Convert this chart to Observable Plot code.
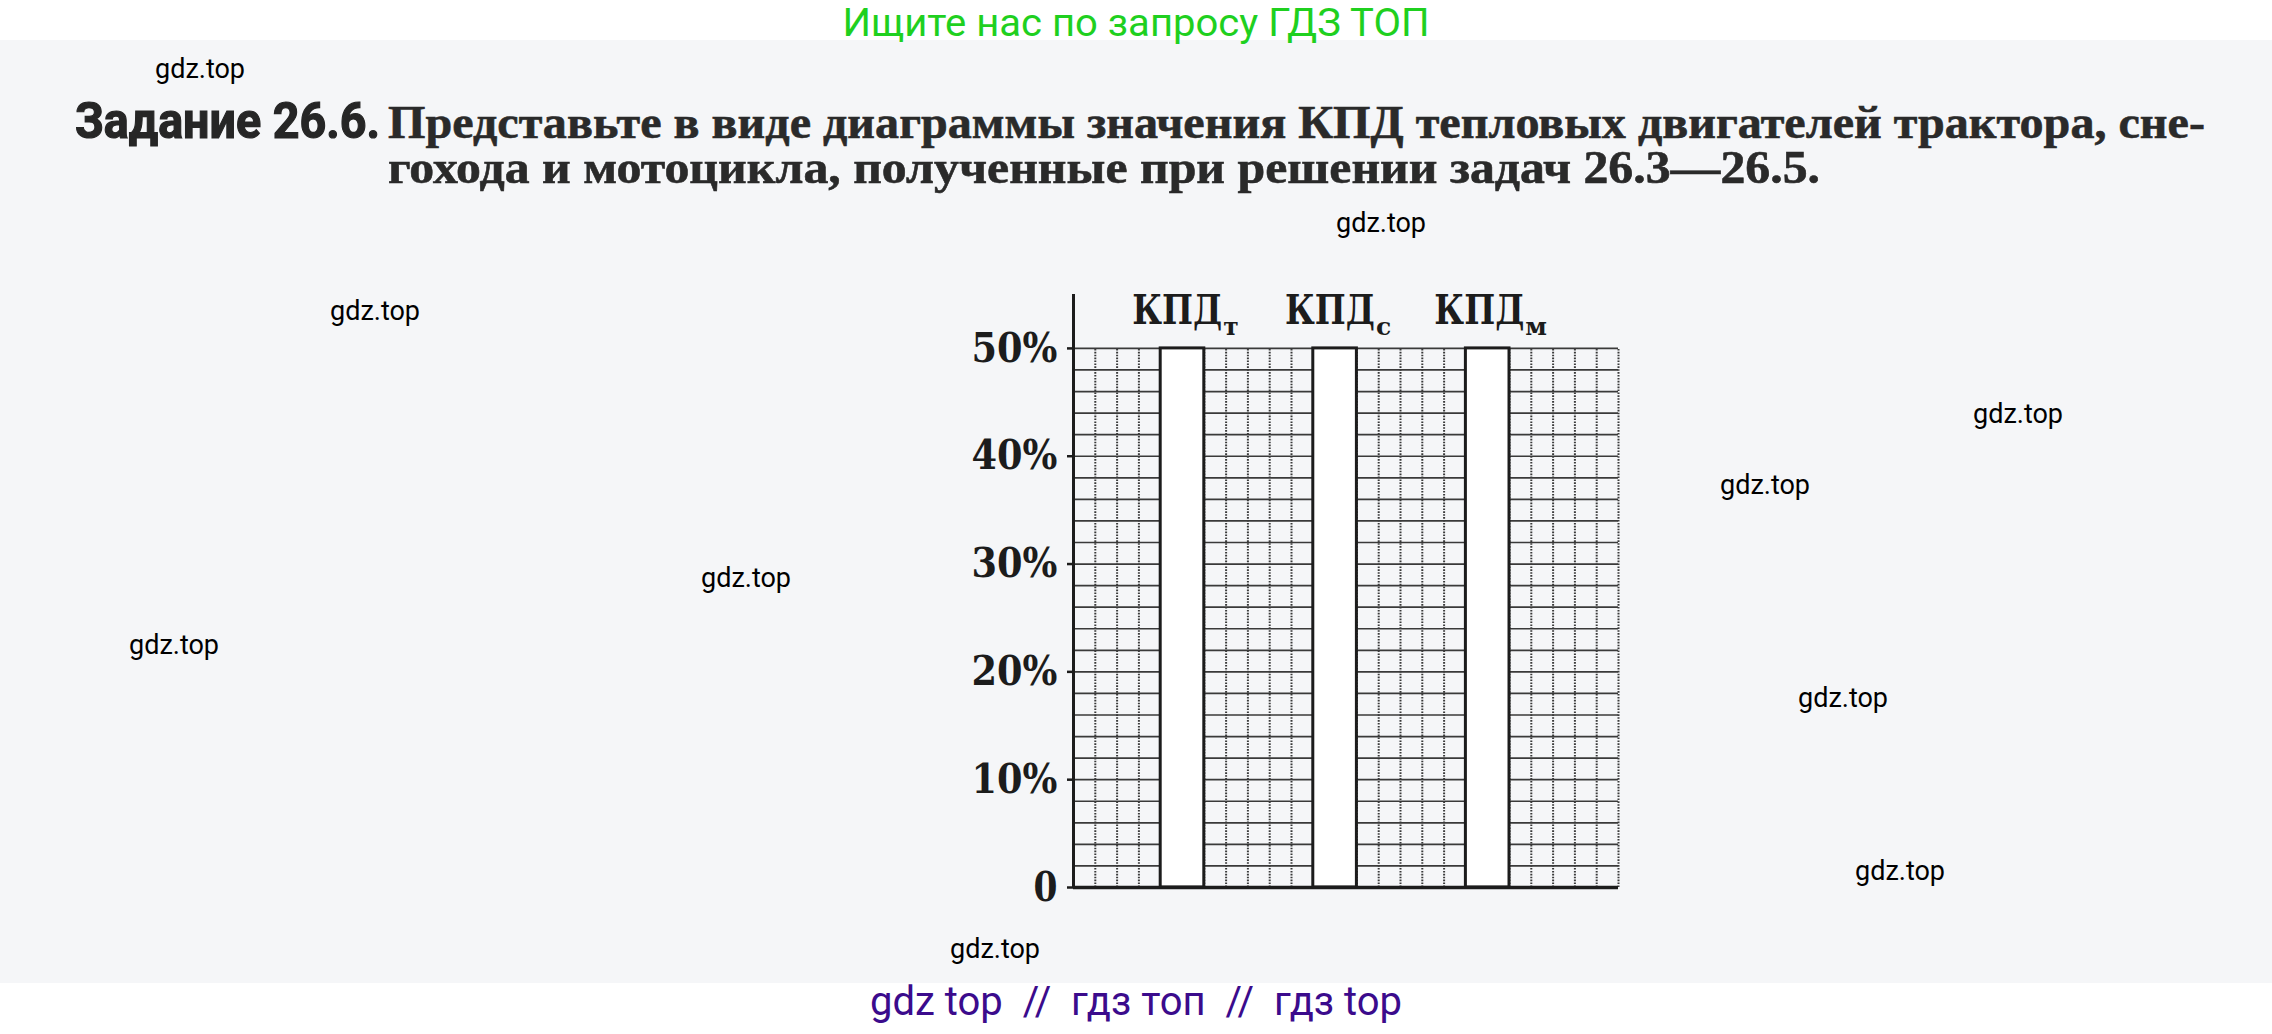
<!DOCTYPE html>
<html>
<head>
<meta charset="utf-8">
<script src="https://cdn.jsdelivr.net/npm/d3@7"></script>
<script src="https://cdn.jsdelivr.net/npm/@observablehq/plot@0.6"></script>
<style>
  html, body { margin: 0; padding: 0; }
  body { width: 2272px; height: 1034px; position: relative; overflow: hidden; background: #ffffff; }
  #scan { position: absolute; left: 0; top: 40px; width: 2272px; height: 943px; background: #f5f6f8; }
  #page { position: absolute; left: 0; top: 0; }
  #chart { position: absolute; left: 900px; top: 250px; }
</style>
</head>
<body>
<div id="scan"></div>
<svg id="page" width="2272" height="1034"></svg>
<div id="chart"></div>
<script>
// ---- data ----
const efficiencyBase = "КПД";
const engineSubscripts = ["т", "с", "м"];     // трактор, снегоход, мотоцикл
const efficiencyValues = [50, 50, 50];          // empty frames reaching 50 %
const yTickValues = [0, 10, 20, 30, 40, 50];
const yTickLabels = ["0", "10%", "20%", "30%", "40%", "50%"];
const gridRowStep = 2;                          // % per grid cell
const gridColumns = 25;

const headTitle = "Ищите нас по запросу ГДЗ ТОП";
const footTitle = "gdz top  //  гдз топ  //  гдз top";
const taskLabel = "Задание 26.6.";
const taskLine1 = "Представьте в виде диаграммы значения КПД тепловых двигателей трактора, сне-";
const taskLine2 = "гохода и мотоцикла, полученные при решении задач 26.3—26.5.";
const watermark = "gdz.top";

// ---- page text (title, caption, watermarks) ----
const page = d3.select("#page");
function txt(s, x, y, o) {
  const t = page.append("text").attr("x", x).attr("y", y).text(s)
    .attr("font-family", o.family).attr("font-size", o.size)
    .attr("font-weight", o.weight || "normal").attr("fill", o.fill || "#111")
    .style("white-space", "pre");
  if (o.anchor) t.attr("text-anchor", o.anchor);
  if (o.len) t.attr("textLength", o.len).attr("lengthAdjust", "spacingAndGlyphs");
  if (o.stroke) t.attr("stroke", o.fill).attr("stroke-width", o.stroke);
  return t;
}
txt(headTitle, 1136, 36, {family: "'Liberation Sans Narrow', 'Roboto', sans-serif", size: 38, fill: "#1fd01f", anchor: "middle", len: 587});
txt(footTitle, 1136, 1015, {family: "'Liberation Sans Narrow', 'Roboto', sans-serif", size: 40, fill: "#3b0b8c", anchor: "middle", len: 532});
txt(taskLabel, 75, 138, {family: "'Liberation Sans Narrow', 'Roboto', sans-serif", size: 50, weight: "bold", fill: "#262626", len: 305, stroke: 1.2});
txt(taskLine1, 388, 138, {family: "'Liberation Serif', serif", size: 47, weight: "bold", fill: "#2a2a2a", len: 1817, stroke: 0.6});
txt(taskLine2, 388, 183, {family: "'Liberation Serif', serif", size: 47, weight: "bold", fill: "#2a2a2a", len: 1432, stroke: 0.6});

const marksPos = [[155,78],[1336,232],[330,320],[1973,423],[1720,494],[701,587],[129,654],[1798,707],[1855,880],[950,958]];
for (const [x, y] of marksPos) txt(watermark, x, y, {family: "Roboto, sans-serif", size: 27, fill: "#000"});

// ---- chart ----
const data = engineSubscripts.map((s, i) => ({sub: s, value: efficiencyValues[i]}));
// band layout of the three bars within the 25 grid columns
const band = d3.scaleBand().domain(engineSubscripts).range([0, gridColumns])
  .paddingInner(5 / 7).paddingOuter(9 / 14).align(4 / 9);
const center = d => band(d.sub) + band.bandwidth() / 2;

const topValue = d3.max(efficiencyValues);
const rows = d3.range(gridRowStep, topValue + 0.001, gridRowStep);
const cols = d3.range(1, gridColumns + 1);
const ink = "#1c1c1c";

const chart = Plot.plot({
  width: 760, height: 660,
  marginLeft: 173, marginRight: 42, marginTop: 44, marginBottom: 23,
  style: {background: "transparent", fontFamily: "'DejaVu Serif', serif", overflow: "visible", color: ink},
  x: {domain: [0, gridColumns], axis: null},
  y: {domain: [0, 55], axis: null},
  marks: [
    Plot.ruleY(rows, {x1: 0, x2: gridColumns, stroke: "#3a3a3a", strokeWidth: 1.7}),
    Plot.ruleX(cols, {y1: 0, y2: topValue, stroke: "#3a3a3a", strokeWidth: 2, strokeDasharray: "1.6,1.3"}),
    Plot.rect(data, {x1: d => band(d.sub), x2: d => band(d.sub) + band.bandwidth(), y1: 0, y2: "value",
      fill: "white", stroke: ink, strokeWidth: 3}),
    Plot.ruleY([0], {x1: 0, x2: gridColumns, stroke: ink, strokeWidth: 3.5}),
    Plot.ruleX([0], {y1: 0, y2: 55, stroke: ink, strokeWidth: 3}),
    Plot.axisY({ticks: yTickValues, tickFormat: v => yTickLabels[yTickValues.indexOf(v)], label: null,
      tickSize: 6, tickPadding: 10, fontSize: 41, fontWeight: "bold", anchor: "left", stroke: ink, strokeWidth: 2.5}),
    Plot.text(data, {x: center, y: "value", text: d => efficiencyBase + d.sub, textAnchor: "middle", lineAnchor: "bottom",
      dx: 3, dy: -24, fontSize: 41, fontWeight: "bold", fill: ink, className: "kpd-label"})
  ]
});
document.getElementById("chart").appendChild(chart);

// condense the wide serif glyphs to the printed widths; set the subscript
const svg = d3.select(chart);
svg.selectAll('g[aria-label="y-axis tick label"] text').each(function () {
  const s = this.textContent;
  d3.select(this).attr("textLength", s.length > 1 ? 86 : 24).attr("lengthAdjust", "spacingAndGlyphs");
});
svg.selectAll(".kpd-label text").each(function () {
  const s = this.textContent;
  const base = s.slice(0, efficiencyBase.length), sub = s.slice(efficiencyBase.length);
  const t = d3.select(this);
  t.text(null);
  t.append("tspan").text(base).attr("textLength", 90).attr("lengthAdjust", "spacingAndGlyphs");
  t.append("tspan").text(sub).attr("font-size", 25).attr("dy", 11).attr("dx", 1);
});
</script>
</body>
</html>
